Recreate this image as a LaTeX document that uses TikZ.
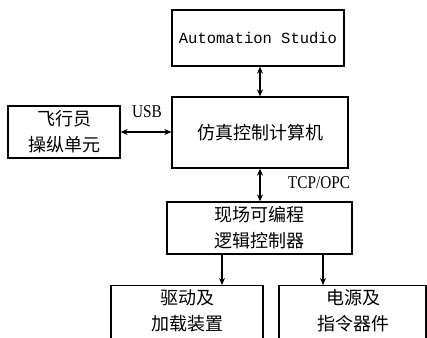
\documentclass[tikz,border=0pt]{standalone}
\usepackage{fontspec}
\setmainfont{Liberation Serif}
\newfontfamily\cjk{Noto Sans CJK SC}
\newfontfamily\monofont{Liberation Mono}
\usetikzlibrary{arrows.meta}
\newcommand\narrow[1]{\scalebox{0.85}[1]{#1}}
\begin{document}
\begin{tikzpicture}[x=1pt,y=-1pt,
  box/.style={draw, line width=1.3pt, inner sep=0pt},
  tip/.tip={Stealth[length=7pt,width=6pt]},
  link/.style={line width=1.2pt, tip-tip},
  feed/.style={line width=1.2pt, -tip},
  zh/.style={font=\cjk\fontsize{18}{26}\selectfont, align=center},
  lab/.style={font=\fontsize{18}{20}\selectfont, inner sep=0pt}]
\clip (0,0) rectangle (427,337);
% upper boxes
\node[box, minimum width=172pt, minimum height=56pt,
      font=\monofont\fontsize{15.5}{18}\selectfont] (as) at (258,38) {Automation Studio};
\node[box, zh, minimum width=176pt, minimum height=71pt] (sim) at (260,132.5) {仿真控制计算机};
\node[box, zh, minimum width=112pt, minimum height=52pt] (pilot) at (64,132) {飞行员\\操纵单元};
\node[box, zh, minimum width=185pt, minimum height=52pt] (plc) at (259.5,228) {现场可编程\\逻辑控制器};
% lower boxes, running past the bottom edge
\node[box, anchor=north, minimum width=152pt, minimum height=70pt] (drive) at (187,285) {};
\node[zh] (drivetext) at (187,310.5) {驱动及\\加载装置};
\node[box, anchor=north, minimum width=147pt, minimum height=70pt] (power) at (352.5,285) {};
\node[zh] (powertext) at (353,310.5) {电源及\\指令器件};
% connectors
\draw[link] (as.south -| sim.north) -- (sim.north);
\draw[link] (pilot.east) -- (pilot.east -| sim.west);
\draw[link] (sim.south) -- (sim.south |- plc.north);
\draw[feed] ([xshift=-37.5pt]plc.south) coordinate (pa) -- (pa |- drive.north);
\draw[feed] ([xshift=63.5pt]plc.south) coordinate (pb) -- (pb |- power.north);
% link labels
\node[lab] (usb) at (147,112) {\narrow{USB}};
\node[lab] (tcp) at (319,183) {\narrow{TCP/OPC}};
\end{tikzpicture}
\end{document}
